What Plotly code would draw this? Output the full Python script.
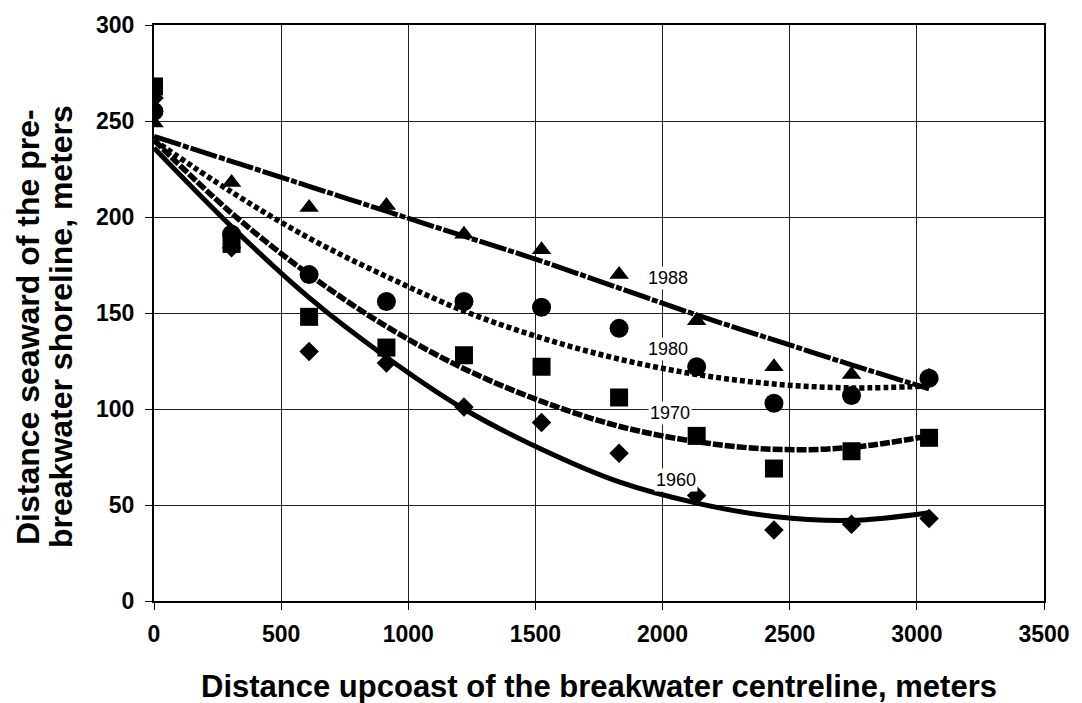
import plotly.graph_objects as go

# Survey stations (m upcoast of breakwater centreline)
x_pts = [0, 305, 610, 914, 1219, 1524, 1829, 2134, 2438, 2743, 3048]

# Measured shoreline positions (m seaward of pre-breakwater shoreline)
y_1988 = [249, 218, 205, 206, 191, 183, 170, 146, 122, 118, 117]
y_1980 = [255, 191, 170, 156, 156, 153, 142, 122, 103, 107, 116]
y_1970 = [268, 186, 148, 132, 128, 122, 106, 86, 69, 78, 85]
y_1960 = [262, 184, 130, 124, 101, 93, 77, 55, 37, 40, 43]

# Trend curves at the same stations
t_1988 = [242, 229, 216, 203, 190, 177, 163, 149, 136, 123, 110.5]
t_1980 = [240, 213, 189, 169, 151, 137, 126, 118, 113, 111, 112]
t_1970 = [240, 202, 170, 143, 121, 104, 91, 83, 79, 80, 86]
t_1960 = [236, 195, 158, 127, 100, 79, 62, 51, 44, 42, 46]

# Curve labels
label_text = ["1988", "1980", "1970", "1960"]
label_x = [2021, 2021, 2028, 2051]
label_y = [168, 131.5, 97.7, 63]

x_ticks = [0, 500, 1000, 1500, 2000, 2500, 3000, 3500]
y_ticks = [0, 50, 100, 150, 200, 250, 300]

FONT = "Arial, 'Liberation Sans', sans-serif"

fig = go.Figure()

markers = [
    (y_1988, "triangle-up", 17),
    (y_1980, "circle", 19),
    (y_1970, "square", 18),
    (y_1960, "diamond", 15),
]
for ys, sym, sz in markers:
    fig.add_trace(go.Scatter(x=x_pts, y=ys, mode="markers",
                             marker=dict(symbol=sym, size=sz, color="black",
                                         line=dict(width=0)),
                             showlegend=False, hoverinfo="skip"))

trends = [
    (t_1988, "28px,2px,6px,2px", 5),
    (t_1980, "5px,3px", 5.5),
    (t_1970, "10px,2px", 5.5),
    (t_1960, "solid", 5),
]
for ys, dash, w in trends:
    fig.add_trace(go.Scatter(x=x_pts, y=ys, mode="lines",
                             line=dict(color="black", width=w, dash=dash,
                                       shape="spline", smoothing=1.0),
                             showlegend=False, hoverinfo="skip"))

for t, lx, ly in zip(label_text, label_x, label_y):
    fig.add_annotation(x=lx, y=ly, text=t, showarrow=False,
                       font=dict(family=FONT, size=18, color="black"),
                       bgcolor="white", borderpad=1)

fig.add_annotation(xref="paper", yref="paper", x=0.5, y=0,
                   xanchor="center", yanchor="middle", yshift=-85,
                   text="<b>Distance upcoast of the breakwater centreline, meters</b>",
                   showarrow=False, font=dict(family=FONT, size=31, color="black"))

y_title_lines = ["Distance seaward of the pre-", "breakwater shoreline, meters"]
for line, xs in zip(y_title_lines, [-126, -93]):
    fig.add_annotation(xref="paper", yref="paper", x=0, y=0.5,
                       xanchor="center", yanchor="middle", xshift=xs, yshift=-14,
                       textangle=-90, text="<b>" + line + "</b>",
                       showarrow=False, font=dict(family=FONT, size=32, color="black"))

fig.update_xaxes(range=[0, 3500], tickvals=x_ticks, ticktext=[str(v) for v in x_ticks],
                 showgrid=True, gridcolor="#222222", gridwidth=1,
                 showline=True, linecolor="black", linewidth=2, mirror=True,
                 ticks="outside", ticklen=7, tickcolor="black", tickwidth=1,
                 ticklabelstandoff=4,
                 tickfont=dict(family=FONT, size=23, color="black", weight="bold"),
                 zeroline=False)
fig.update_yaxes(range=[0, 300], tickvals=y_ticks, ticktext=[str(v) for v in y_ticks],
                 showgrid=True, gridcolor="#222222", gridwidth=1,
                 showline=True, linecolor="black", linewidth=2, mirror=True,
                 ticks="outside", ticklen=7, tickcolor="black", tickwidth=1,
                 ticklabelstandoff=6,
                 tickfont=dict(family=FONT, size=23, color="black", weight="bold"),
                 zeroline=False)

fig.update_layout(width=1082, height=703,
                  margin=dict(l=154, r=28, t=19, b=102),
                  plot_bgcolor="white", paper_bgcolor="white",
                  showlegend=False)

fig.write_html("out.html")
